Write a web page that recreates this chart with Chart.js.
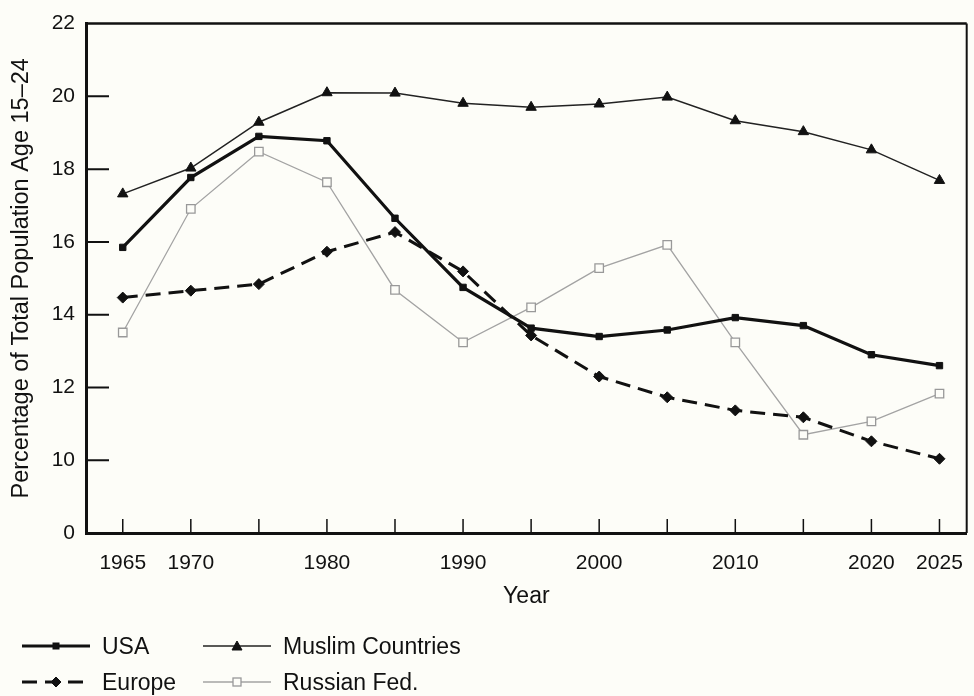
<!DOCTYPE html>
<html lang="en">
<head>
<meta charset="UTF-8">
<title>Percentage of Total Population Age 15-24</title>
<script src="https://cdn.jsdelivr.net/npm/chart.js@4"></script>
<style>
  html, body { margin: 0; padding: 0; background: #fdfdf8; }
  #wrap { position: relative; width: 974px; height: 696px; }
  #legend {
    position: absolute; left: 22px; top: 628px;
    display: grid; grid-template-rows: 36px 36px; grid-auto-flow: column;
    grid-template-columns: 181px 300px;
    font-family: "Liberation Sans", Arial, sans-serif; font-size: 23px; color: #111;
  }
  .item { display: flex; align-items: center; white-space: nowrap; }
  .item svg { margin-right: 12px; }
</style>
</head>
<body>
<div id="wrap">
  <canvas id="chart" width="974" height="696"></canvas>
  <div id="legend"></div>
</div>
<script>
  // years on the x axis and which of them get a printed label
  const years = [1965, 1970, 1975, 1980, 1985, 1990, 1995, 2000, 2005, 2010, 2015, 2020, 2025];
  const xTickLabels = [1965, 1970, 1980, 1990, 2000, 2010, 2020, 2025];

  // y axis is broken: the bottom tick stands for 0, the rest run 10..22
  const yTicks = [8, 10, 12, 14, 16, 18, 20, 22];
  const yTickLabels = ['0', '10', '12', '14', '16', '18', '20', '22'];

  const usa     = [15.85, 17.77, 18.9, 18.78, 16.65, 14.75, 13.63, 13.4, 13.58, 13.92, 13.7, 12.9, 12.6];
  const europe  = [14.47, 14.66, 14.84, 15.73, 16.27, 15.19, 13.43, 12.3, 11.73, 11.37, 11.18, 10.52, 10.04];
  const muslim  = [17.32, 18.03, 19.29, 20.1, 20.09, 19.81, 19.7, 19.79, 19.98, 19.33, 19.03, 18.53, 17.69];
  const russian = [13.51, 16.91, 18.48, 17.64, 14.68, 13.24, 14.2, 15.28, 15.92, 13.24, 10.7, 11.07, 11.83];

  const tickFont = { family: '"Liberation Sans", Arial, sans-serif', size: 21 };
  const ink = '#111';

  const pts = vals => vals.map((v, i) => ({ x: years[i], y: v }));

  // frame on top/right plus tick marks pointing into the plot
  const frameAndTicks = {
    id: 'frameAndTicks',
    beforeDatasetsDraw(chart) {
      const { ctx, chartArea: a, scales: { x, y } } = chart;
      ctx.save();
      ctx.strokeStyle = ink;
      ctx.lineWidth = 2.5;
      ctx.beginPath();
      ctx.moveTo(a.left, a.top);
      ctx.lineTo(a.right, a.top);
      ctx.stroke();
      ctx.lineWidth = 2;
      ctx.beginPath();
      ctx.moveTo(a.right, a.top);
      ctx.lineTo(a.right, a.bottom);
      ctx.stroke();

      ctx.beginPath();
      y.ticks.forEach(t => {
        if (t.value > yTicks[0] && t.value < yTicks[yTicks.length - 1]) {
          const py = y.getPixelForValue(t.value);
          ctx.moveTo(a.left, py);
          ctx.lineTo(a.left + 23, py);
        }
      });
      ctx.stroke();

      ctx.lineWidth = 1.5;
      ctx.beginPath();
      x.ticks.forEach(t => {
        const px = x.getPixelForValue(t.value);
        ctx.moveTo(px, a.bottom);
        ctx.lineTo(px, a.bottom - 14);
      });
      ctx.stroke();
      ctx.restore();
    }
  };

  const chart = new Chart(document.getElementById('chart'), {
    type: 'line',
    data: {
      datasets: [
        {
          label: 'USA', data: pts(usa), order: 1,
          borderColor: ink, borderWidth: 3.2,
          pointStyle: 'rect', pointRadius: 4.5,
          pointBackgroundColor: ink, pointBorderColor: ink, pointBorderWidth: 1
        },
        {
          label: 'Europe', data: pts(europe), order: 2,
          borderColor: ink, borderWidth: 3, borderDash: [15, 8],
          pointStyle: 'rectRot', pointRadius: 5.5,
          pointBackgroundColor: ink, pointBorderColor: ink, pointBorderWidth: 1
        },
        {
          label: 'Muslim Countries', data: pts(muslim), order: 3,
          borderColor: '#222', borderWidth: 1.5,
          pointStyle: 'triangle', pointRadius: 6,
          pointBackgroundColor: ink, pointBorderColor: ink, pointBorderWidth: 1
        },
        {
          label: 'Russian Fed.', data: pts(russian), order: 4,
          borderColor: '#a3a3a3', borderWidth: 1.3,
          pointStyle: 'rect', pointRadius: 6,
          pointBackgroundColor: '#fdfdf8', pointBorderColor: '#999', pointBorderWidth: 1.3
        }
      ]
    },
    options: {
      responsive: false,
      animation: false,
      tension: 0,
      layout: { padding: { left: 0, right: 4, top: 22, bottom: 83 } },
      plugins: { legend: { display: false }, tooltip: { enabled: false } },
      scales: {
        x: {
          type: 'linear',
          min: 1962.3, max: 2027,
          afterBuildTicks: s => { s.ticks = years.map(v => ({ value: v })); },
          afterFit: s => { s.height = 80; s.paddingLeft = 0; s.paddingRight = 0; },
          grid: { display: false, drawTicks: false },
          border: { display: true, width: 3, color: ink },
          ticks: {
            autoSkip: false, maxRotation: 0, padding: 18,
            color: ink, font: tickFont,
            callback: v => xTickLabels.includes(v) ? String(v) : ''
          },
          title: {
            display: true, text: 'Year', color: ink,
            font: { family: '"Liberation Sans", Arial, sans-serif', size: 23 },
            padding: { top: 0, bottom: 3 }
          }
        },
        y: {
          type: 'linear',
          min: yTicks[0], max: yTicks[yTicks.length - 1],
          afterBuildTicks: s => { s.ticks = yTicks.map(v => ({ value: v })); },
          afterFit: s => { s.width = 86; },
          grid: { display: false, drawTicks: false },
          border: { display: true, width: 3, color: ink },
          ticks: {
            padding: 11, color: ink, font: tickFont,
            callback: v => yTickLabels[yTicks.indexOf(v)]
          },
          title: {
            display: true, text: 'Percentage of Total Population Age 15\u201324', color: ink,
            font: { family: '"Liberation Sans", Arial, sans-serif', size: 23.5 },
            padding: { top: 7, bottom: 0 }
          }
        }
      }
    },
    plugins: [frameAndTicks]
  });

  // two-column legend built from the datasets
  function markerSvg(ds, cx, cy) {
    const fill = ds.pointBackgroundColor, stroke = ds.pointBorderColor, sw = ds.pointBorderWidth;
    if (ds.pointStyle === 'triangle') {
      return `<polygon points="${cx},${cy - 5} ${cx + 5},${cy + 4} ${cx - 5},${cy + 4}" fill="${fill}" stroke="${stroke}" stroke-width="${sw}"/>`;
    }
    if (ds.pointStyle === 'rectRot') {
      return `<polygon points="${cx},${cy - 5} ${cx + 5},${cy} ${cx},${cy + 5} ${cx - 5},${cy}" fill="${fill}" stroke="${stroke}" stroke-width="${sw}"/>`;
    }
    const r = ds.borderWidth < 2 ? 4 : 3;
    return `<rect x="${cx - r}" y="${cy - r}" width="${2 * r}" height="${2 * r}" fill="${fill}" stroke="${stroke}" stroke-width="${sw}"/>`;
  }

  const legend = document.getElementById('legend');
  chart.data.datasets.forEach(ds => {
    const dash = ds.borderDash ? `stroke-dasharray="${ds.borderDash.join(' ')}"` : '';
    const el = document.createElement('div');
    el.className = 'item';
    el.innerHTML =
      `<svg width="68" height="16"><line x1="0" y1="8" x2="68" y2="8" stroke="${ds.borderColor}" stroke-width="${ds.borderWidth}" ${dash}/>` +
      markerSvg(ds, 34, 8) + `</svg><span>${ds.label}</span>`;
    legend.appendChild(el);
  });
</script>
</body>
</html>
